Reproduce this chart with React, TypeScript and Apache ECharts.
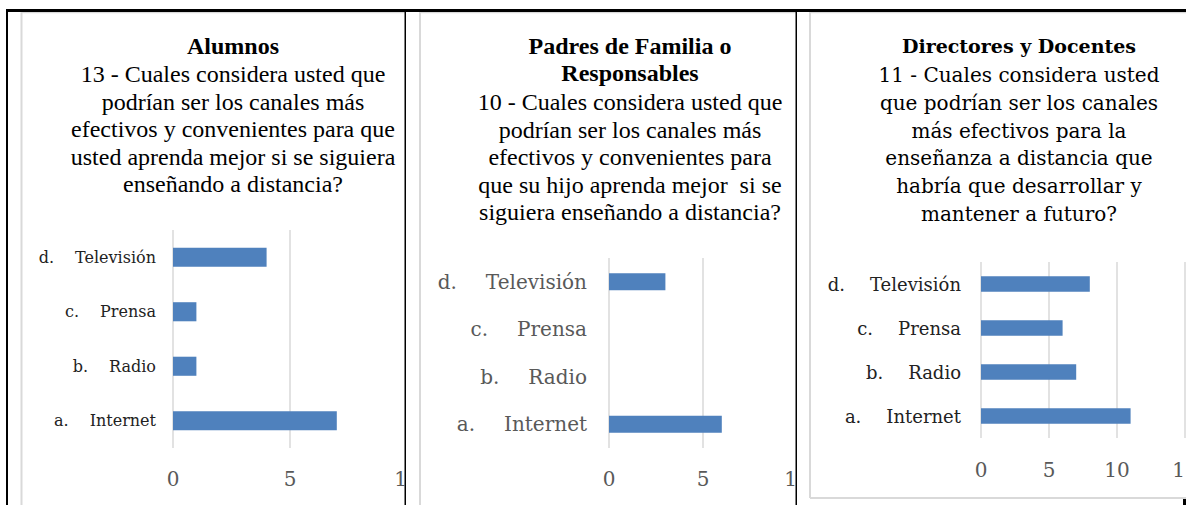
import React, { useEffect, useRef } from "react";
import * as echarts from "echarts";

// ---- data ----
const letters = ["a.", "b.", "c.", "d."];
const channels = ["Internet", "Radio", "Prensa", "Televisión"];
const alumnosValues = [7, 1, 1, 4];
const padresValues = [6, 0, 0, 3];
const docentesValues = [11, 7, 6, 8];
const axisMax = [10, 10, 15];

const titleHeads = ["Alumnos", "Padres de Familia o\nResponsables", "Directores y Docentes"];
const titleBodies = [
  "13 - Cuales considera usted que\npodrían ser los canales más\nefectivos y convenientes para que\nusted aprenda mejor si se siguiera\nenseñando a distancia?",
  "10 - Cuales considera usted que\npodrían ser los canales más\nefectivos y convenientes para\nque su hijo aprenda mejor  si se\nsiguiera enseñando a distancia?",
  "11 - Cuales considera usted\nque podrían ser los canales\nmás efectivos para la\nenseñanza a distancia que\nhabría que desarrollar y\nmantener a futuro?",
];

const BAR = "#4f81bd";
const GRID_GRAY = "#d9d9d9";
const TICK_GRAY = "#595959";
const CAMBRIA = "'DejaVu Serif', serif";
const TIMES = "'Liberation Serif', 'Times New Roman', serif";

const panels = [
  { left: 173, top: 230, width: 234, height: 218, labelSize: 16, labelColor: "#222", gap: 21, labelMargin: 17, tickMargin: 21, barWidth: "35%", values: alumnosValues },
  { left: 609, top: 258, width: 188, height: 190, labelSize: 20, labelColor: "#595959", gap: 29, labelMargin: 22, tickMargin: 21, barWidth: "36%", values: padresValues },
  { left: 981, top: 262, width: 204, height: 176, labelSize: 18, labelColor: "#222", gap: 25, labelMargin: 20, tickMargin: 22, barWidth: "35%", values: docentesValues },
];

export default function App() {
  const ref = useRef<HTMLDivElement>(null);

  useEffect(() => {
    if (!ref.current) return;
    const chart = echarts.init(ref.current, undefined, { renderer: "svg" });

    const grids = panels.map((p) => ({
      left: p.left,
      top: p.top,
      width: p.width,
      height: p.height,
      containLabel: false,
      outerBoundsMode: "none",
    }));
    const xAxes = panels.map((p, i) => ({
      type: "value",
      gridIndex: i,
      min: 0,
      max: axisMax[i],
      interval: 5,
      axisLine: { show: false },
      axisTick: { show: false },
      splitLine: { show: true, lineStyle: { color: GRID_GRAY, width: 1.5 } },
      axisLabel: {
        show: true,
        showMaxLabel: true,
        hideOverlap: false,
        margin: p.tickMargin,
        fontFamily: CAMBRIA,
        fontSize: 20,
        color: TICK_GRAY,
      },
    }));
    const yAxes = panels.map((p, i) => ({
      type: "category",
      gridIndex: i,
      data: channels,
      axisLine: { show: false },
      axisTick: { show: false },
      splitLine: { show: false },
      axisLabel: {
        margin: p.labelMargin,
        formatter: (_v: string, idx: number) => `{l|${letters[idx]}}{n|${channels[idx]}}`,
        rich: {
          l: { fontFamily: CAMBRIA, fontSize: p.labelSize, color: p.labelColor, padding: [0, p.gap, 0, 0] },
          n: { fontFamily: CAMBRIA, fontSize: p.labelSize, color: p.labelColor },
        },
      },
    }));
    const series = panels.map((p, i) => ({
      type: "bar",
      xAxisIndex: i,
      yAxisIndex: i,
      data: p.values,
      barWidth: p.barWidth,
      itemStyle: { color: BAR },
    }));

    const titleLayout = [
      { cx: 233, headY: 46, headLH: 27, headFont: TIMES, headSize: 24, bodyY: 74, bodyLH: 27.5, bodyFont: TIMES, bodySize: 24 },
      { cx: 630, headY: 46, headLH: 27, headFont: TIMES, headSize: 24, bodyY: 102, bodyLH: 27.5, bodyFont: TIMES, bodySize: 24 },
      { cx: 1019, headY: 46, headLH: 27, headFont: CAMBRIA, headSize: 19, bodyY: 75, bodyLH: 27.8, bodyFont: CAMBRIA, bodySize: 20 },
    ];

    const texts: any[] = [];
    titleLayout.forEach((t, i) => {
      texts.push({
        type: "text",
        z: 80,
        style: {
          text: titleHeads[i],
          x: t.cx,
          y: t.headY - t.headLH / 2,
          align: "center",
          verticalAlign: "top",
          fontFamily: t.headFont,
          fontSize: t.headSize,
          fontWeight: "bold",
          lineHeight: t.headLH,
          fill: "#000",
        },
      });
      texts.push({
        type: "text",
        z: 80,
        style: {
          text: titleBodies[i],
          x: t.cx,
          y: t.bodyY - t.bodyLH / 2,
          align: "center",
          verticalAlign: "top",
          fontFamily: t.bodyFont,
          fontSize: t.bodySize,
          lineHeight: t.bodyLH,
          fill: "#000",
        },
      });
    });

    const vline = (x: number, y1: number, y2: number, color: string, w: number, z: number) => ({
      type: "line",
      z,
      shape: { x1: x, y1, x2: x, y2 },
      style: { stroke: color, lineWidth: w },
    });
    const hline = (y: number, x1: number, x2: number, color: string, w: number, z: number) => ({
      type: "line",
      z,
      shape: { x1, y1: y, x2, y2: y },
      style: { stroke: color, lineWidth: w },
    });

    const graphic: any[] = [
      // clip chart overflow at cell borders
      { type: "rect", z: 60, shape: { x: 406, y: 13, width: 13, height: 492 }, style: { fill: "#fff" } },
      { type: "rect", z: 60, shape: { x: 797, y: 13, width: 12, height: 492 }, style: { fill: "#fff" } },
      // chart frames
      vline(21.5, 12, 505, GRID_GRAY, 2, 65),
      hline(12.5, 21.5, 405, GRID_GRAY, 1.5, 65),
      vline(420, 12, 505, GRID_GRAY, 2, 65),
      hline(12.5, 420, 796, GRID_GRAY, 1.5, 65),
      vline(810, 12, 498, GRID_GRAY, 2, 65),
      hline(498, 810, 1186, GRID_GRAY, 2, 65),
      hline(12.5, 810, 1186, GRID_GRAY, 1.5, 65),
      // table borders
      { type: "rect", z: 70, shape: { x: 6, y: 9, width: 1180, height: 3 }, style: { fill: "#000" } },
      { type: "rect", z: 70, shape: { x: 6, y: 9, width: 2, height: 496 }, style: { fill: "#000" } },
      { type: "rect", z: 70, shape: { x: 404.5, y: 11, width: 1.5, height: 494 }, style: { fill: "#000" } },
      { type: "rect", z: 70, shape: { x: 795.5, y: 11, width: 1.5, height: 494 }, style: { fill: "#000" } },
      { type: "rect", z: 70, shape: { x: 1183, y: 499, width: 3, height: 6 }, style: { fill: "#000" } },
      ...texts,
    ];

    chart.setOption({
      animation: false,
      backgroundColor: "#fff",
      grid: grids,
      xAxis: xAxes,
      yAxis: yAxes,
      series,
      graphic,
    });

    return () => chart.dispose();
  }, []);

  return (
    <div
      ref={ref}
      style={{ position: "absolute", left: 0, top: 0, width: 1186, height: 505 }}
    />
  );
}
